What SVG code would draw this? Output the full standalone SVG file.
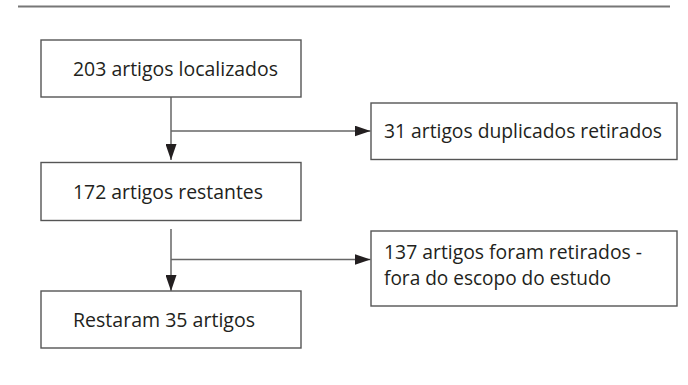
<svg xmlns="http://www.w3.org/2000/svg" width="688" height="385" viewBox="0 0 688 385">
<style>
.box{fill:#fff;stroke:#555;stroke-width:1.4}
.lbl{font-family:"Open Sans","Noto Sans","Liberation Sans",sans-serif;font-size:20px;fill:#231f20}
.con{stroke:#666;stroke-width:1.5;fill:none}
</style>
<defs>
<marker id="ah" markerUnits="userSpaceOnUse" markerWidth="16" markerHeight="11" refX="16" refY="5.5" orient="auto">
<path d="M0,0 L16,5.5 L0,11 z" fill="#231f20"/>
</marker>
</defs>
<line x1="18" y1="6.5" x2="670" y2="6.5" stroke="#777" stroke-width="2"/>
<g id="connectors">
<line class="con" x1="171" y1="97" x2="171" y2="160" marker-end="url(#ah)"/>
<line class="con" x1="171" y1="131" x2="370.5" y2="131" marker-end="url(#ah)"/>
<line class="con" x1="171" y1="229" x2="171" y2="291" marker-end="url(#ah)"/>
<line class="con" x1="171" y1="259.5" x2="370.5" y2="259.5" marker-end="url(#ah)"/>
</g>
<g id="n1">
<rect class="box" x="41" y="40" width="260" height="57"/>
<text class="lbl" x="73" y="76" textLength="205" lengthAdjust="spacingAndGlyphs">203 artigos localizados</text>
</g>
<g id="n2">
<rect class="box" x="371" y="103" width="306" height="56.5"/>
<text class="lbl" x="384" y="137.5" textLength="278" lengthAdjust="spacingAndGlyphs">31 artigos duplicados retirados</text>
</g>
<g id="n3">
<rect class="box" x="41" y="162.5" width="260" height="58"/>
<text class="lbl" x="73" y="199" textLength="190" lengthAdjust="spacingAndGlyphs">172 artigos restantes</text>
</g>
<g id="n4">
<rect class="box" x="371" y="231" width="306" height="75"/>
<text class="lbl" x="384" y="259" textLength="258" lengthAdjust="spacingAndGlyphs">137 artigos foram retirados -</text>
<text class="lbl" x="384" y="285" textLength="227" lengthAdjust="spacingAndGlyphs">fora do escopo do estudo</text>
</g>
<g id="n5">
<rect class="box" x="41" y="291" width="260" height="57"/>
<text class="lbl" x="73" y="327" textLength="182" lengthAdjust="spacingAndGlyphs">Restaram 35 artigos</text>
</g>
</svg>
